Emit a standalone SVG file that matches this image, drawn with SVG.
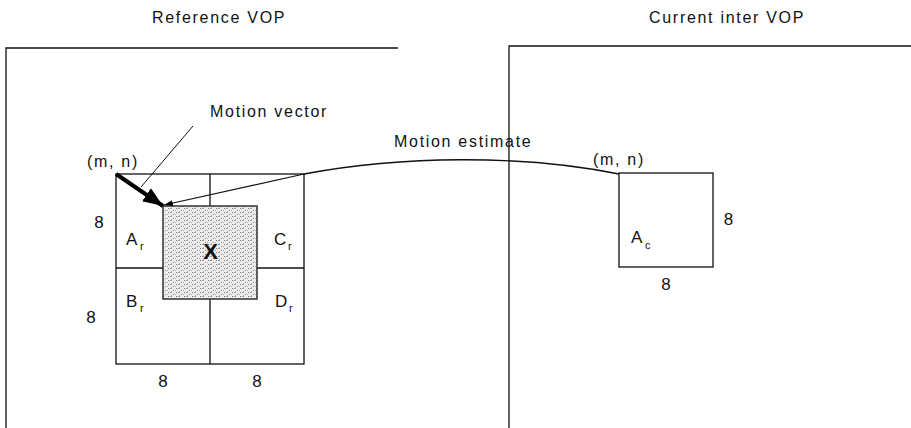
<svg xmlns="http://www.w3.org/2000/svg" width="911" height="428" viewBox="0 0 911 428">
<style>
  text { font-family: "Liberation Sans", Arial, sans-serif; fill: #111; }
  .lbl { font-size: 16px; letter-spacing: 1.7px; }
  .num { font-size: 17px; text-anchor: middle; }
  .blk { font-size: 17px; }
  .sub { font-size: 11px; }
  .ln { stroke: #111; stroke-width: 1.3; fill: none; }
</style>
<defs>
  <pattern id="dots" width="8" height="4" patternUnits="userSpaceOnUse">
    <rect width="8" height="4" fill="#ececec"/>
    <rect x="0" y="0" width="1" height="1" fill="#777"/>
    <rect x="2" y="0" width="2" height="1" fill="#999"/>
    <rect x="5" y="2" width="1" height="1" fill="#888"/>
    <rect x="7" y="2" width="1" height="1" fill="#aaa"/>
    <rect x="3" y="3" width="1" height="1" fill="#bbb"/>
  </pattern>
  <marker id="bigHead" markerUnits="userSpaceOnUse" markerWidth="22" markerHeight="18" refX="20" refY="9" orient="auto">
    <path d="M0,1 L20,9 L0,17 Z" fill="#000"/>
  </marker>
  <marker id="smallHead" markerUnits="userSpaceOnUse" markerWidth="10" markerHeight="8" refX="9" refY="4" orient="auto">
    <path d="M0,1 L9,4 L0,7 Z" fill="#000"/>
  </marker>
</defs>

<g id="reference-vop">
  <path class="ln" d="M6,428 V48 H398"/>
  <text class="lbl" x="152" y="23">Reference VOP</text>
</g>

<g id="current-vop">
  <path class="ln" d="M509,428 V46 H911"/>
  <text class="lbl" x="649" y="23">Current inter VOP</text>
</g>

<g id="ref-grid">
  <rect class="ln" x="116" y="174" width="188" height="190"/>
  <path class="ln" d="M210,174 V206 M210,299 V364 M116,268 H163 M257,268 H304"/>
  <text class="num" x="99" y="228">8</text>
  <text class="num" x="91" y="323">8</text>
  <text class="num" x="163" y="387">8</text>
  <text class="num" x="257" y="387">8</text>
  <text class="lbl" x="87" y="167">(m, n)</text>
</g>

<g id="block-Ar">
  <text class="blk" x="126" y="245">A</text><text class="sub" x="140" y="250">r</text>
</g>
<g id="block-Cr">
  <text class="blk" x="274" y="245">C</text><text class="sub" x="288" y="250">r</text>
</g>
<g id="block-Br">
  <text class="blk" x="126" y="307">B</text><text class="sub" x="140" y="312">r</text>
</g>
<g id="block-Dr">
  <text class="blk" x="275" y="307">D</text><text class="sub" x="289" y="312">r</text>
</g>

<g id="block-X">
  <rect x="163" y="206" width="94" height="93" fill="url(#dots)" stroke="#333" stroke-width="1.5"/>
  <text x="210.5" y="259" font-size="22" font-weight="bold" text-anchor="middle">X</text>
</g>

<g id="block-Ac">
  <rect class="ln" x="619" y="173" width="94" height="94"/>
  <text class="blk" x="631" y="243">A</text><text class="sub" x="645" y="249">c</text>
  <text class="num" x="728.5" y="225">8</text>
  <text class="num" x="666" y="290">8</text>
  <text class="lbl" x="593" y="165">(m, n)</text>
</g>

<g id="labels">
  <text class="lbl" x="210" y="117">Motion vector</text>
  <text class="lbl" x="394" y="147">Motion estimate</text>
</g>

<g id="connectors">
  <line x1="116" y1="174" x2="163" y2="206" stroke="#000" stroke-width="4" marker-end="url(#bigHead)"/>
  <line x1="193" y1="126" x2="141" y2="187" stroke="#111" stroke-width="1"/>
  <path class="ln" d="M619,174 C520,154 400,156 304,174"/>
  <line x1="304" y1="174" x2="164" y2="205" stroke="#111" stroke-width="1.2" marker-end="url(#smallHead)"/>
</g>
</svg>
